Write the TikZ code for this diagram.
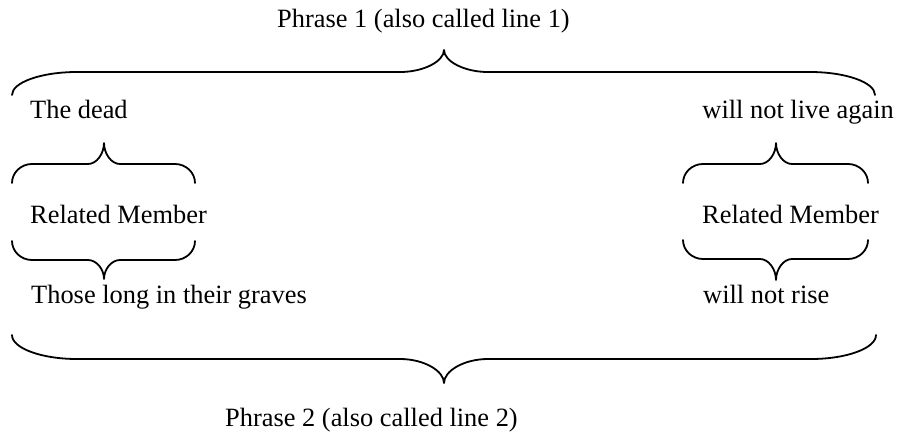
\documentclass[tikz,border=0pt]{standalone}
\usepackage{fontspec}
\setmainfont{Liberation Serif}
\usetikzlibrary{calc}

% Curly brace: #1 left x, #2 right x, #3 tip x, #4 end y, #5 bar y, #6 tip y,
% #7 width of the end curves, #8 width of the tip curves
\newcommand\curlybrace[8]{%
  \draw[bracestroke]
    (#1,#4) .. controls (#1,{#4+0.55*(#5-#4)}) and ({#1+0.45*#7},#5) .. ({#1+#7},#5)
    -- ({#3-#8},#5)
    .. controls ({#3-0.45*#8},#5) and (#3,{#5+0.5*(#6-#5)}) .. (#3,#6)
    .. controls (#3,{#5+0.5*(#6-#5)}) and ({#3+0.45*#8},#5) .. ({#3+#8},#5)
    -- ({#2-#7},#5)
    .. controls ({#2-0.45*#7},#5) and (#2,{#4+0.55*(#5-#4)}) .. (#2,#4);%
}

\begin{document}
\begin{tikzpicture}[x=1pt,y=-1pt,
  bracestroke/.style={line width=1.8pt,line join=round,line cap=round},
  label/.style={inner sep=0pt,font=\fontsize{26.4}{31}\selectfont}]
\useasboundingbox (0,0) rectangle (899,434);

% texts
\node[label,anchor=base west] (p1)   at (277,27)  {Phrase 1 (also called line 1)};
\node[label,anchor=base west] (dead) at (30,118)  {The dead};
\node[label,anchor=base east] (live) at (894,118) {will not live again};
\node[label,anchor=base west] (rml)  at (30,223)  {Related Member};
\node[label,anchor=base west] (rmr)  at (702,223) {Related Member};
\node[label,anchor=base west] (long) at (31,303)  {Those long in their graves};
\node[label,anchor=base west] (rise) at (703,303) {will not rise};
\node[label,anchor=base west] (p2)   at (225,426) {Phrase 2 (also called line 2)};

% large braces
\curlybrace{12}{875}{444}{95}{72}{50}{65}{44}
\curlybrace{12}{876}{444}{335}{359}{383}{65}{44}

% small braces, left column
\curlybrace{12}{195}{104}{183}{164}{143}{20}{16}
\curlybrace{12}{195}{104}{241}{260}{279}{20}{16}

% small braces, right column
\curlybrace{683}{868}{776}{183}{164}{143}{20}{16}
\curlybrace{683}{868}{776}{240}{259}{280}{20}{16}
\end{tikzpicture}
\end{document}
